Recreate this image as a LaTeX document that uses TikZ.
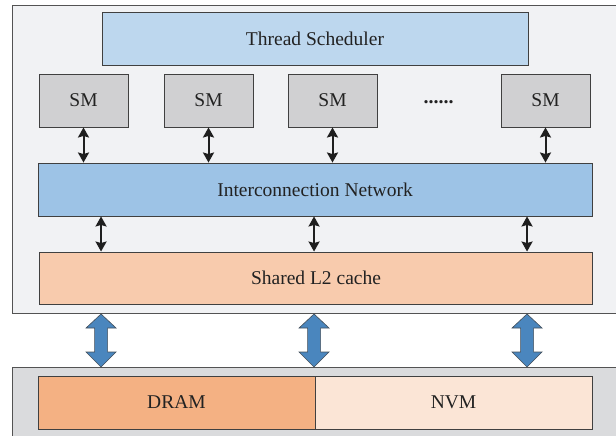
\documentclass[tikz,border=0pt]{standalone}
\usepackage{fontspec}
\setmainfont{Liberation Serif}
\usetikzlibrary{arrows.meta,calc}
\definecolor{bgtop}{HTML}{F1F2F4}
\definecolor{bgbot}{HTML}{DADBDD}
\definecolor{tsfill}{HTML}{BDD7EE}
\definecolor{smfill}{HTML}{D0D0D2}
\definecolor{infill}{HTML}{9DC3E6}
\definecolor{l2fill}{HTML}{F8CBAD}
\definecolor{dramfill}{HTML}{F4B183}
\definecolor{nvmfill}{HTML}{FBE5D6}
\definecolor{bigarrow}{HTML}{4A86BE}
\definecolor{edge}{HTML}{404040}
\definecolor{txt}{HTML}{222222}
\tikzset{
  box/.style={draw=edge, line width=0.9pt, rectangle, inner sep=0pt, text=txt,
    font=\fontsize{19.5}{22}\selectfont},
  dbl/.style={line width=2pt, black!88,
    {Stealth[length=10pt,width=11pt,inset=1.5pt]}-{Stealth[length=10pt,width=11pt,inset=1.5pt]}},
  fat/.style={fill=bigarrow, draw=edge!80!bigarrow, line width=0.6pt, line join=miter}
}
\begin{document}
\begin{tikzpicture}[x=1pt,y=-1pt]
\useasboundingbox (0,0) rectangle (616,436);
% outer containers
\fill[bgtop] (12.5,5) rectangle (630,313);
\draw[edge!90, line width=0.9pt] (630,5) -- (12.5,5) -- (12.5,313) -- (630,313);
\fill[bgbot] (12.5,367) rectangle (630,445);
\draw[edge!90, line width=0.9pt] (630,367) -- (12.5,367) -- (12.5,445);
% nodes
\node[box, fill=tsfill, minimum width=426pt, minimum height=53pt] (ts) at (315,39) {Thread Scheduler};
\node[box, fill=smfill, minimum width=89pt, minimum height=53pt] (sm1) at (83.5,100.5) {SM};
\node[box, fill=smfill, minimum width=89pt, minimum height=53pt] (sm2) at (208.5,100.5) {SM};
\node[box, fill=smfill, minimum width=89pt, minimum height=53pt] (sm3) at (332.5,100.5) {SM};
\node[box, fill=smfill, minimum width=89pt, minimum height=53pt] (sm4) at (545.5,100.5) {SM};
\node[text=txt, font=\fontsize{20}{22}\selectfont\bfseries, inner sep=0pt, anchor=base] (dots) at (438.5,103) {......};
\node[box, fill=infill, minimum width=554pt, minimum height=53pt] (in) at (315,189.5) {Interconnection Network};
\node[box, fill=l2fill, minimum width=553pt, minimum height=52pt] (l2) at (316,278) {Shared L2 cache};
\node[box, fill=dramfill, minimum width=277pt, minimum height=53pt] (dram) at (176.5,402.5) {DRAM};
\node[box, fill=nvmfill, minimum width=277pt, minimum height=53pt] (nvm) at (453.5,402.5) {NVM};
% SM <-> interconnect
\foreach \s in {sm1,sm2,sm3,sm4}{
  \draw[dbl] (\s.south) -- (\s.south |- in.north);
}
% interconnect <-> L2
\coordinate (c1) at ($(l2.north west)+(62,0)$);
\coordinate (c2) at ($(l2.north west)+(275,0)$);
\coordinate (c3) at ($(l2.north west)+(488,0)$);
\foreach \c in {c1,c2,c3}{
  \draw[dbl] (\c |- in.south) -- (\c);
}
% L2 <-> memory (fat double arrows)
\foreach \c in {c1,c2,c3}{
  \coordinate (t) at (\c |- 0,314);
  \draw[fat] (t) -- ++(15,14) -- ++(-8.5,0) -- ++(0,24) -- ++(8.5,0)
     -- ++(-15,15) -- ++(-15,-15) -- ++(8.5,0) -- ++(0,-24) -- ++(-8.5,0) -- cycle;
}
\end{tikzpicture}
\end{document}
